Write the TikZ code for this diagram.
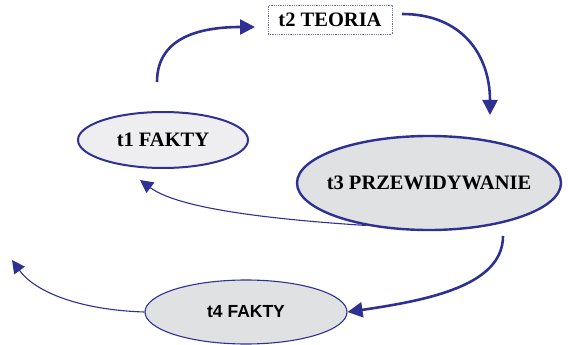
\documentclass[tikz,border=0pt]{standalone}
\usepackage{fontspec}
\setmainfont{Liberation Serif}
\setsansfont{Liberation Sans}
\usetikzlibrary{arrows.meta,shapes.geometric}
\definecolor{navy}{RGB}{46,49,146}
\definecolor{lightfill}{RGB}{238,238,240}
\definecolor{greyfill}{RGB}{224,225,227}

\begin{document}
\begin{tikzpicture}[x=1pt,y=-1pt,
	stage/.style={ellipse, draw=navy, inner sep=0pt, font=\fontsize{20.5}{22}\selectfont\bfseries},
	thick arrow/.style={draw=navy, line width=2.6pt, -{Triangle[length=15pt,width=15pt]}},
	thin arrow/.style={draw=navy, line width=1.1pt, -{Triangle[length=13pt,width=13pt]}}]
	\useasboundingbox (0,0) rectangle (568,345);

	\node[draw=navy!70, densely dotted, line width=0.8pt, minimum width=124pt, minimum height=29pt,
		inner sep=0pt, font=\fontsize{20.5}{22}\selectfont\bfseries] (teoria) at (330,20) {t2 TEORIA};
	\node[stage, fill=lightfill, line width=2pt, minimum width=170pt, minimum height=56pt] (fakty1) at (163,140) {t1 FAKTY};
	\node[stage, fill=greyfill, line width=2.4pt, inner xsep=-20pt, minimum width=264pt, minimum height=94pt] (przew) at (429,183) {t3 PRZEWIDYWANIE};
	\node[stage, fill=greyfill, line width=1.1pt, minimum width=202pt, minimum height=64pt,
		font=\fontsize{17.5}{19}\selectfont\sffamily\bfseries] (fakty4) at (246,312) {t4 FAKTY};

	% free ends of the arrows
	\coordinate (up1) at (157,82);
	\coordinate (in2) at (255,27);
	\coordinate (out2) at (402,14);
	\coordinate (in3) at (490,115);
	\coordinate (out3) at (503,236);
	\coordinate (back1) at (140,180);
	\coordinate (back0) at (12,260);

	\path[thick arrow] (up1) .. controls (157,40) and (195,27) .. (in2);
	\path[thick arrow] (out2) .. controls (462,14) and (490,55) .. (in3);
	\path[thick arrow] (out3) .. controls (503,285) and (430,300) .. (fakty4.east);
	\path[thin arrow] (przew.-146) .. controls (250,218) and (175,206) .. (back1);
	\path[thin arrow] (fakty4.west) .. controls (80,310) and (35,292) .. (back0);
\end{tikzpicture}
\end{document}
